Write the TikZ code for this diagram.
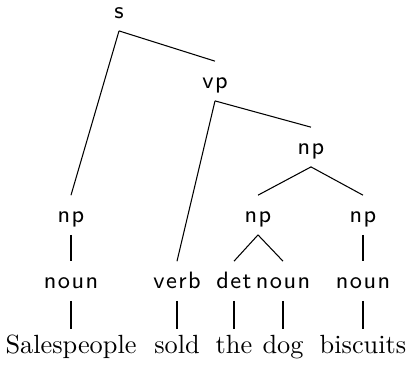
\documentclass[tikz,border=0pt]{standalone}
\usepackage{fontspec}
\newfontfamily\catfont[LetterSpace=6]{Latin Modern Sans}
\tikzset{
  cat/.style={font=\catfont\fontsize{9}{11}\selectfont, anchor=base, inner sep=0pt, text height=10pt, text depth=4.7pt},
  leaf/.style={font=\rmfamily\fontsize{10}{12}\selectfont, anchor=base, inner sep=0pt, text height=8.9pt, text depth=0pt},
  branch/.style={draw=black, line width=0.4pt}
}
\begin{document}
\begin{tikzpicture}[x=0.38pt,y=-0.38pt]
\useasboundingbox (0,0) rectangle (409,370);
\node[cat] (s)   at (119,18)  {s};
\node[cat] (vp)  at (215,88)  {vp};
\node[cat] (np2) at (311,154) {np};
\node[cat] (np1) at (71,222)  {np};
\node[cat] (np3) at (258,222) {np};
\node[cat] (np4) at (363,222) {np};
\node[cat] (n1)  at (71,288)  {noun};
\node[cat] (v)   at (177,288) {verb};
\node[cat] (det) at (234,288) {det};
\node[cat] (n2)  at (283,288) {noun};
\node[cat] (n3)  at (363,288) {noun};
\node[leaf] (w1) at (71,353)  {Salespeople};
\node[leaf] (w2) at (177,353) {sold};
\node[leaf] (w3) at (234,353) {the};
\node[leaf] (w4) at (283,353) {dog};
\node[leaf] (w5) at (363,353) {biscuits};
\draw[branch] (s.south) -- (vp.north);
\draw[branch] (s.south) -- (np1.north);
\draw[branch] (vp.south) -- (np2.north);
\draw[branch] (vp.south) -- (v.north);
\draw[branch] (np2.south) -- (np3.north);
\draw[branch] (np2.south) -- (np4.north);
\draw[branch] (np1.south) -- (n1.north);
\draw[branch] (np3.south) -- (det.north);
\draw[branch] (np3.south) -- (n2.north);
\draw[branch] (np4.south) -- (n3.north);
\draw[branch] (n1.south) -- (w1.north);
\draw[branch] (v.south) -- (w2.north);
\draw[branch] (det.south) -- (w3.north);
\draw[branch] (n2.south) -- (w4.north);
\draw[branch] (n3.south) -- (w5.north);
\end{tikzpicture}
\end{document}
